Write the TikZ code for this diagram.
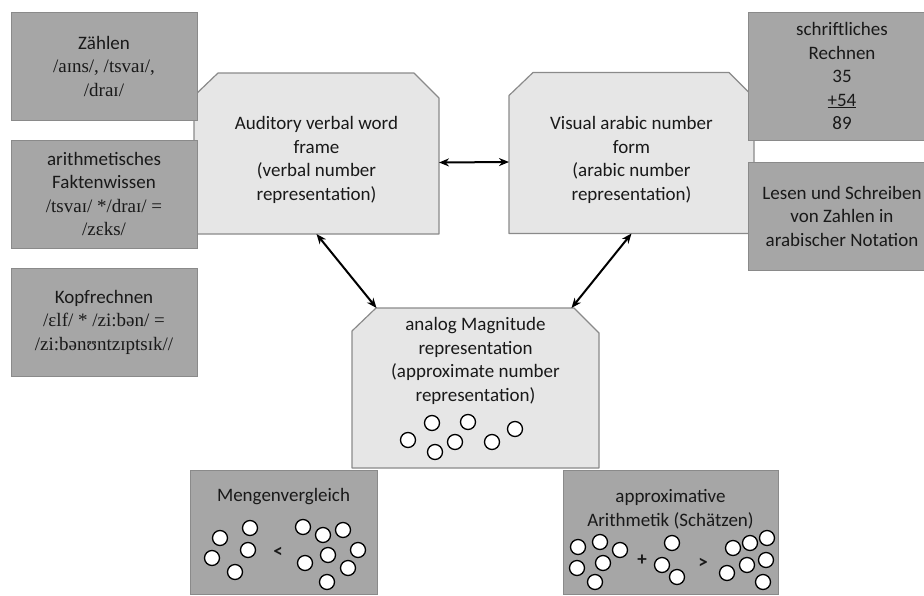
\documentclass[tikz,border=0pt]{standalone}
\usepackage{fontspec}
\setmainfont{Carlito}
\newfontfamily\ipafont{Liberation Serif}
\usetikzlibrary{positioning, backgrounds, arrows.meta}
\definecolor{box-gray}{HTML}{A6A6A6}
\definecolor{box-light}{HTML}{E6E6E6}
\definecolor{edge-gray}{HTML}{8A8A8A}
\newcommand{\ipa}[1]{{\ipafont #1}}

\begin{document}
\begin{tikzpicture}[
    x=1pt, y=-1pt,
    node distance=20pt,
    every node/.style={font=\fontsize{19}{23.5}\selectfont, text=black!90, inner sep=0pt, outer sep=0pt},
    stage/.style={rectangle, minimum width=245pt, minimum height=161pt},
    stageline/.style={draw=edge-gray, fill=box-light, line width=1.2pt, line join=round},
    task/.style={rectangle, draw=edge-gray, fill=box-gray, line width=1pt, minimum width=186pt, minimum height=108pt, align=center},
    ball/.style={circle, draw=black, fill=white, line width=1.3pt, minimum size=15pt},
    arrow/.style={{Stealth[length=10pt,width=8pt]}-{Stealth[length=10pt,width=8pt]}, line width=2pt, black}
]
    \useasboundingbox (0,0) rectangle (924,595);
    \clip (0,0) rectangle (924,595);

    % the three representations
    \node[stage] (aud) at (316.5,153.5) {};
    \node[align=center] (audtext) at (316.5,160) {Auditory verbal word\\frame\\(verbal number\\representation)};
    \node[stage] (vis) at (631.5,153) {};
    \node[align=center] (vistext) at (631.5,160) {Visual arabic number\\form\\(arabic number\\representation)};
    \node[stage, minimum width=247pt, minimum height=160pt] (mag) at (475.5,388) {};
    \node[align=center] (magtext) at (475.5,361) {analog Magnitude\\representation\\(approximate number\\representation)};
    \foreach \x/\y [count=\i] in {408/440, 432/423, 435/452, 455/442, 468/422, 492/442, 515/429}
        \node[ball] (mag-\i) at (\x,\y) {};

    \begin{pgfonlayer}{background}
        \foreach \n in {aud,vis,mag}
            \draw[stageline] (\n.south west) -- ([yshift=-23pt]\n.north west) -- ([xshift=24pt]\n.north west)
                -- ([xshift=-25pt]\n.north east) -- ([yshift=-25pt]\n.north east) -- (\n.south east) -- cycle;
    \end{pgfonlayer}

    % verbal tasks
    \node[task] (zahl) at (104,66) {Zählen\\\ipa{/aɪns/, /tsvaɪ/,}\\\ipa{/draɪ/}};
    \node[task, below=of zahl] (fakt) {arithmetisches\\Faktenwissen\\\ipa{/tsvaɪ/ */draɪ/ =}\\\ipa{/zɛks/}};
    \node[task, below=of fakt] (kopf) {Kopfrechnen\\\ipa{/ɛlf/ * /zi:bən/ =}\\\ipa{/zi:bənʊntzɪptsɪk//}};

    % arabic tasks
    \node[task, minimum width=188pt, minimum height=128pt] (schrift) at (842,76) {schriftliches\\Rechnen\\35\\\underline{+54}\\89};
    \node[task, minimum width=188pt, below=22pt of schrift] (lesen) {Lesen und Schreiben\\von Zahlen in\\arabischer Notation};

    % magnitude tasks
    \node[task, minimum width=187pt, minimum height=124pt] (menge) at (283.5,532) {};
    \node (mengetext) at (283.5,497) {Mengenvergleich};
    \foreach \x/\y [count=\i] in {220/538, 250/528, 212/558, 248/550, 235/572}
        \node[ball] (ml-\i) at (\x,\y) {};
    \node (lt) at (278,552) {\textbf{<}};
    \foreach \x/\y [count=\i] in {303/527, 323/535, 343/530, 358/550, 328/555, 305/563, 348/568, 327/582}
        \node[ball] (mr-\i) at (\x,\y) {};

    \node[task, minimum width=215pt, minimum height=124pt] (appr) at (670.5,532) {};
    \node[align=center] (apprtext) at (670.5,509) {approximative\\Arithmetik (Schätzen)};
    \foreach \x/\y [count=\i] in {578/547, 600/542, 620/550, 577/568, 603/563, 595/582}
        \node[ball] (aa-\i) at (\x,\y) {};
    \node (plus) at (642,560) {\textbf{+}};
    \foreach \x/\y [count=\i] in {672/543, 662/565, 677/577}
        \node[ball] (ab-\i) at (\x,\y) {};
    \node (gt) at (703,563) {\textbf{>}};
    \foreach \x/\y [count=\i] in {733/548, 750/543, 767/538, 727/573, 747/565, 766/560, 763/582}
        \node[ball] (ac-\i) at (\x,\y) {};

    \draw[arrow] ([yshift=-9pt]aud.east) -- ([yshift=-9pt]vis.west);
    \draw[arrow] (aud.south) -- ([xshift=-99pt]mag.north);
    \draw[arrow] (vis.south) -- ([xshift=96pt]mag.north);
\end{tikzpicture}
\end{document}
